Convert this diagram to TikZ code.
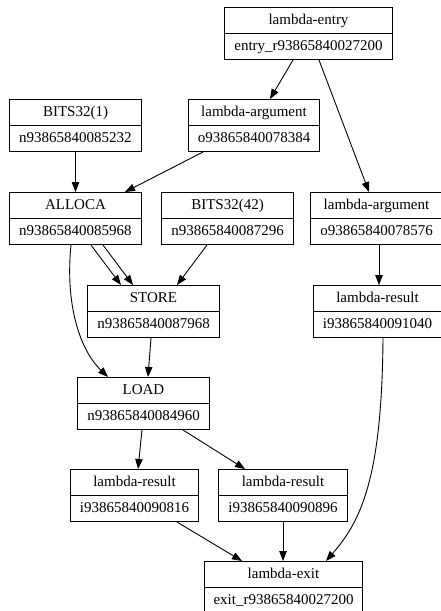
\documentclass[tikz,border=0pt]{standalone}
\usepackage{fontspec}
\setmainfont{Liberation Serif}
\usetikzlibrary{shapes.multipart,arrows.meta}

\tikzset{
  rec/.style={rectangle split, rectangle split parts=2, draw=black,
    line width=1pt, inner xsep=9.5pt, inner ysep=3.5pt, anchor=north,
    font=\fontsize{15}{18}\selectfont},
  edge/.style={line width=0.9pt, -{Triangle[length=10pt,width=7.5pt]}}
}
\newcommand{\rtxt}[2]{\strut #1\nodepart{two}\strut #2}

\begin{document}
\begin{tikzpicture}[x=1pt,y=-1pt]
\useasboundingbox (0,0) rectangle (441,611);

% record nodes
\node[rec] (entry)  at (308.5,7)  {\rtxt{lambda-entry}{entry\_r93865840027200}};
\node[rec] (bitsa)  at (75.5,99)  {\rtxt{BITS32(1)}{n93865840085232}};
\node[rec] (argl)   at (254,99)   {\rtxt{lambda-argument}{o93865840078384}};
\node[rec] (alloca) at (75.5,192) {\rtxt{ALLOCA}{n93865840085968}};
\node[rec] (bitsb)  at (227.5,192){\rtxt{BITS32(42)}{n93865840087296}};
\node[rec] (argr)   at (376.5,192){\rtxt{lambda-argument}{o93865840078576}};
\node[rec] (store)  at (153.5,285){\rtxt{STORE}{n93865840087968}};
\node[rec] (resr)   at (377.5,285){\rtxt{lambda-result}{i93865840091040}};
\node[rec] (load)   at (143.5,377){\rtxt{LOAD}{n93865840084960}};
\node[rec] (resa)   at (134.5,469){\rtxt{lambda-result}{i93865840090816}};
\node[rec] (resb)   at (283,469)  {\rtxt{lambda-result}{i93865840090896}};
\node[rec] (exit)   at (283.5,561){\rtxt{lambda-exit}{exit\_r93865840027200}};

% connectors
\draw[edge] ([xshift=-15.5pt]entry.south) -- ([xshift=16pt]argl.north);
\draw[edge] ([xshift=10.5pt]entry.south) -- ([xshift=-7.5pt]argr.north);
\draw[edge] (bitsa.south) -- (alloca.north);
\draw[edge] ([xshift=-51pt]argl.south) -- ([xshift=49.5pt]alloca.north);
\draw[edge] ([xshift=15.5pt]alloca.south) -- ([xshift=-32.5pt]store.north);
\draw[edge] ([xshift=27.5pt]alloca.south) -- ([xshift=-20.5pt]store.north);
\draw[edge] ([xshift=-4.5pt]alloca.south) .. controls +(-6,60) and +(-28,-27) .. ([xshift=-35.5pt]load.north);
\draw[edge] ([xshift=-20.5pt]bitsb.south) -- ([xshift=23.5pt]store.north);
\draw[edge] ([xshift=2.5pt]argr.south) -- ([xshift=1.5pt]resr.north);
\draw[edge] ([xshift=-2.5pt]store.south) -- ([xshift=4.5pt]load.north);
\draw[edge] ([xshift=5.5pt]resr.south) .. controls +(-1,140) and +(35,-40) .. ([xshift=42.5pt]exit.north);
\draw[edge] ([xshift=-1.5pt]load.south) -- ([xshift=3.5pt]resa.north);
\draw[edge] ([xshift=39.5pt]load.south) -- ([xshift=-38pt]resb.north);
\draw[edge] ([xshift=42.5pt]resa.south) -- ([xshift=-41.5pt]exit.north);
\draw[edge] (resb.south) -- ([xshift=-0.5pt]exit.north);
\end{tikzpicture}
\end{document}
